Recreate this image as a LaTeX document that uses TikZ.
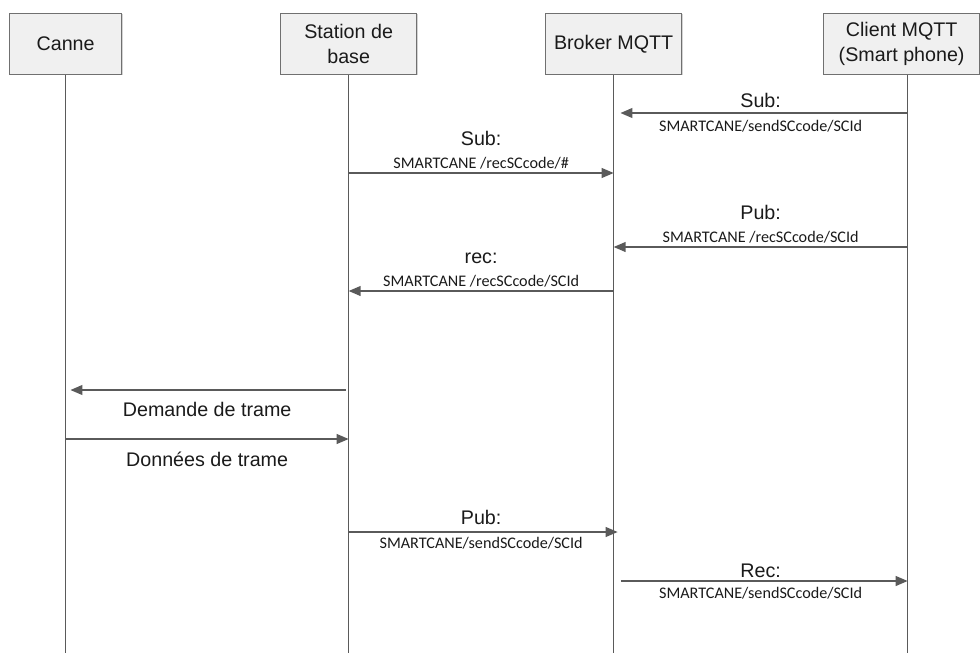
\documentclass[tikz,border=0pt]{standalone}
\usepackage{fontspec}
\setmainfont{Liberation Sans}
\newfontfamily\topicfont{Carlito}
\usepackage{tikz}
\usetikzlibrary{positioning, arrows.meta, shadows}
\definecolor{seqLine}{HTML}{5A5A5A}
\definecolor{seqBox}{HTML}{F0F0F0}
\definecolor{seqBorder}{HTML}{707070}
\definecolor{seqText}{HTML}{1A1A1A}

\begin{document}
\begin{tikzpicture}[x=0.025cm, y=-0.025cm,
  font=\fontsize{14}{16.3}\selectfont,
  actor/.style={draw=seqBorder, fill=seqBox, line width=0.9pt, minimum height=1.525cm, inner sep=0pt, align=center, text=seqText,
    font=\fontsize{14}{17.6}\selectfont,
    drop shadow={shadow xshift=0.6pt, shadow yshift=-0.6pt, opacity=0.35}},
  life/.style={draw=seqLine, line width=0.9pt},
  msg/.style={draw=seqLine, line width=1pt, -{Triangle[length=8.5pt, width=7pt]}},
  lbl/.style={text=seqText, inner sep=2pt},
  topic/.style={text=seqText, inner sep=2pt, font=\topicfont\fontsize{11.5}{13}\selectfont}]
  \useasboundingbox (0,0) rectangle (980,653);
  % participants
  \node[actor, minimum width=2.8cm, anchor=north west] (canne) at (9,13) {Canne};
  \node[actor, minimum width=3.4cm, anchor=north west] (station) at (280,13) {Station de\\base};
  \node[actor, minimum width=3.4cm, anchor=north west] (broker) at (545,13) {Broker MQTT};
  \node[actor, minimum width=3.9cm, anchor=north west] (client) at (823,13) {Client MQTT\\(Smart phone)};
  \coordinate (clientline) at ([xshift=0.15cm]client.south);
  \coordinate (bottom) at (0,653);
  % lifelines
  \draw[life] (canne.south) -- (canne |- bottom);
  \draw[life] (station.south) -- (station |- bottom);
  \draw[life] (broker.south) -- (broker |- bottom);
  \draw[life] (clientline) -- (clientline |- bottom);
  % message heights
  \coordinate (m1) at (0,113);
  \coordinate (m2) at (0,173);
  \coordinate (m3) at (0,247);
  \coordinate (m4) at (0,291);
  \coordinate (m5) at (0,390);
  \coordinate (m6) at (0,439);
  \coordinate (m7) at (0,532);
  \coordinate (m8) at (0,581);
  % subscriptions
  \draw[msg, shorten >=0.17cm] (clientline |- m1) -- node[lbl, above=1.5pt] {Sub:} node[topic, below=2.8pt] {SMARTCANE/sendSCcode/SCId} (broker |- m1);
  \draw[msg] (station |- m2) -- node[topic, above=0pt] {SMARTCANE /recSCcode/\#} node[lbl, above=17pt] {Sub:} (broker |- m2);
  % code request
  \draw[msg] (clientline |- m3) -- node[topic, above=0pt] {SMARTCANE /recSCcode/SCId} node[lbl, above=17pt] {Pub:} (broker |- m3);
  \draw[msg] (broker |- m4) -- node[topic, above=0pt] {SMARTCANE /recSCcode/SCId} node[lbl, above=17pt] {rec:} (station |- m4);
  % frame exchange
  \draw[msg, shorten <=0.07cm, shorten >=0.12cm] (station |- m5) -- node[lbl, below=6pt] {Demande de trame} (canne |- m5);
  \draw[msg] (canne |- m6) -- node[lbl, below=7pt] {Données de trame} (station |- m6);
  % code answer
  \draw[msg, shorten >=-0.1cm] (station |- m7) -- node[lbl, above=3pt] {Pub:} node[topic, below=1.5pt] {SMARTCANE/sendSCcode/SCId} (broker |- m7);
  \draw[msg, shorten <=0.18cm] (broker |- m8) -- node[lbl, above=0pt] {Rec:} node[topic, below=2pt] {SMARTCANE/sendSCcode/SCId} (clientline |- m8);
\end{tikzpicture}
\end{document}
